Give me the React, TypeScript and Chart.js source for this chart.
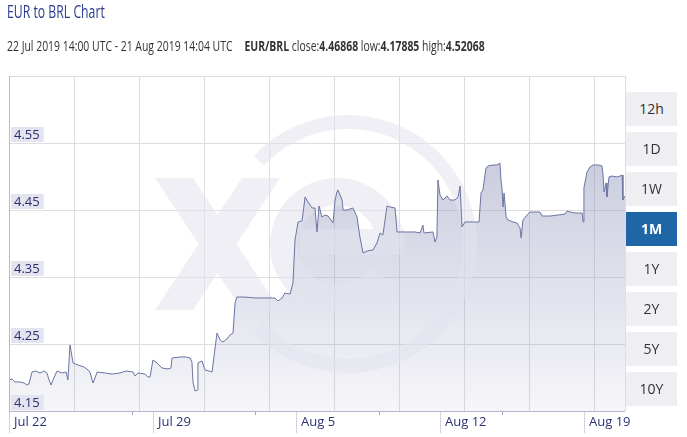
import React, { useEffect, useRef } from "react";
import { Chart, registerables } from "chart.js";

Chart.register(...registerables);

// ---- data (days since Jul 22 00:00, EUR/BRL rate) ----
const sampleDays = [
  0, 0.15, 0.29, 0.54, 0.73, 0.88, 0.97, 1.12, 1.31, 1.51,
  1.7, 1.85, 1.95, 2.05, 2.14, 2.34, 2.58, 2.78, 2.87, 2.97,
  3.12, 3.36, 3.65, 3.85, 3.94, 4.09, 4.19, 4.29, 4.68, 5.02,
  5.41, 5.7, 6.04, 6.14, 6.28, 6.62, 6.77, 6.87, 7.01, 7.21,
  7.45, 7.74, 7.89, 7.94, 8.33, 8.62, 8.82, 8.91, 8.96, 9.06,
  9.16, 9.2, 9.4, 9.55, 9.74, 9.89, 9.98, 10.13, 10.28, 10.42,
  10.62, 10.76, 10.91, 11.01, 11.1, 11.49, 11.98, 12.47, 12.95, 13.1,
  13.3, 13.44, 13.69, 13.83, 13.93, 14.08, 14.27, 14.42, 14.56, 14.76,
  14.9, 15.0, 15.1, 15.24, 15.39, 15.54, 15.78, 15.88, 15.97, 16.02,
  16.22, 16.27, 16.46, 16.75, 16.95, 17.09, 17.24, 17.44, 17.73, 17.92,
  18.07, 18.21, 18.41, 18.56, 18.8, 18.9, 19.29, 19.77, 20.02, 20.16,
  20.21, 20.65, 20.75, 20.84, 20.89, 20.99, 21.14, 21.33, 21.48, 21.72,
  21.87, 21.97, 22.06, 22.21, 22.55, 22.89, 22.99, 23.08, 23.23, 23.33,
  23.57, 23.77, 23.91, 23.96, 24.01, 24.06, 24.11, 24.21, 24.3, 24.55,
  24.74, 24.89, 24.94, 25.03, 25.23, 25.37, 25.86, 25.96, 26.35, 26.74,
  27.08, 27.18, 27.32, 27.61, 27.91, 27.96, 28.0, 28.15, 28.3, 28.44,
  28.69, 28.88, 28.93, 28.98, 29.08, 29.12, 29.22, 29.37, 29.61, 29.76,
  29.86, 29.9, 30.0,
];

const eurBrl = [
  4.1963, 4.1978, 4.1933, 4.1933, 4.1918, 4.1888, 4.1903, 4.2082, 4.2097, 4.2067,
  4.2097, 4.2067, 4.1963, 4.1888, 4.1963, 4.2097, 4.2067, 4.2082, 4.1963, 4.2485,
  4.2216, 4.2187, 4.2157, 4.2112, 4.2082, 4.1918, 4.1993, 4.2082, 4.2067, 4.2052,
  4.2067, 4.2097, 4.2082, 4.2022, 4.2067, 4.2052, 4.2007, 4.2007, 4.2261, 4.2216,
  4.2142, 4.2127, 4.2142, 4.2291, 4.2306, 4.2306, 4.2291, 4.2231, 4.1933, 4.1799,
  4.1813, 4.2216, 4.2246, 4.2112, 4.2097, 4.2082, 4.2306, 4.2664, 4.256, 4.253,
  4.2575, 4.2634, 4.2664, 4.3112, 4.3201, 4.3201, 4.3187, 4.3187, 4.3187, 4.3142,
  4.3187, 4.3261, 4.3246, 4.341, 4.4052, 4.4321, 4.4336, 4.4694, 4.4619, 4.453,
  4.453, 4.4172, 4.456, 4.4396, 4.4425, 4.441, 4.4306, 4.4649, 4.4769, 4.4799,
  4.4649, 4.45, 4.45, 4.453, 4.4396, 4.4097, 4.3858, 4.3888, 4.3903, 4.4007,
  4.4157, 4.4127, 4.456, 4.4545, 4.453, 4.4172, 4.4172, 4.4172, 4.4157, 4.4276,
  4.4157, 4.4172, 4.4022, 4.4097, 4.4948, 4.4724, 4.4649, 4.4709, 4.4649, 4.4649,
  4.4694, 4.4858, 4.4246, 4.4321, 4.4321, 4.4321, 4.4754, 4.4799, 4.5127, 4.5157,
  4.5172, 4.5172, 4.5201, 4.4948, 4.4828, 4.4545, 4.4754, 4.4396, 4.4351, 4.4321,
  4.4306, 4.4231, 4.4082, 4.4351, 4.4425, 4.447, 4.447, 4.441, 4.441, 4.4425,
  4.444, 4.4485, 4.447, 4.4455, 4.4455, 4.4321, 4.4828, 4.5067, 4.5142, 4.5172,
  4.5172, 4.5157, 4.5022, 4.4769, 4.4903, 4.4694, 4.4993, 4.5007, 4.4993, 4.5007,
  4.5022, 4.4649, 4.4709,
];

const xMajorDays = [0, 7, 14, 21, 28];
const xMajorLabels = ["Jul 22", "Jul 29", "Aug 5", "Aug 12", "Aug 19"];
const xMinorDays = [6, 12, 18, 24];
const yLabelValues = [4.15, 4.25, 4.35, 4.45, 4.55];
const yGridValues = [4.15, 4.25, 4.35, 4.45, 4.55, 4.65];
const rangeButtons = ["12h", "1D", "1W", "1M", "1Y", "2Y", "5Y", "10Y"];
const activeButton = "1M";

const X_MIN = 0;
const X_MAX = 30;
const Y_MIN = 4.15;
const Y_MAX = 4.65;
const V_GRID_STEP = 3.1656; // vertical grid spacing in days

const FONT = '"Open Sans", "DejaVu Sans", sans-serif';

function drawWatermark(ctx: CanvasRenderingContext2D, w: number, h: number) {
  const off = document.createElement("canvas");
  off.width = w;
  off.height = h;
  const o = off.getContext("2d")!;
  o.fillStyle = "#e3e4ee";
  // X
  o.beginPath();
  o.moveTo(155, 178); o.lineTo(193, 178); o.lineTo(280, 310); o.lineTo(242, 310); o.closePath();
  o.moveTo(242, 178); o.lineTo(280, 178); o.lineTo(193, 310); o.lineTo(155, 310); o.closePath();
  o.fill();
  // big ring
  const d = Math.PI / 180;
  o.beginPath();
  o.arc(348, 244, 129, -137 * d, 137 * d, false);
  o.arc(348, 244, 115, 137 * d, -137 * d, true);
  o.closePath();
  o.fill();
  // inner e
  o.beginPath();
  o.arc(337, 245, 67, 35 * d, 360 * d, false);
  o.arc(337, 245, 40, 360 * d, 35 * d, true);
  o.closePath();
  o.fill();
  o.fillRect(300, 229, 104, 26);
  ctx.save();
  ctx.globalAlpha = 0.56;
  ctx.drawImage(off, 0, 0);
  ctx.restore();
}

const decorPlugin = {
  id: "decor",
  beforeDraw(chart: any) {
    const ctx = chart.ctx;
    ctx.save();
    ctx.fillStyle = "#ffffff";
    ctx.fillRect(0, 0, chart.width, chart.height);
    ctx.restore();
  },
  afterDatasetDraw(chart: any, args: any) {
    if (args.index !== 0) return;
    drawWatermark(chart.ctx, chart.width, chart.height);
  },
  afterDraw(chart: any) {
    const ctx: CanvasRenderingContext2D = chart.ctx;
    const area = chart.chartArea;
    const xs = chart.scales.x;
    const ys = chart.scales.y;
    ctx.save();
    // axis lines
    ctx.lineWidth = 1;
    ctx.strokeStyle = "#b4b7d1";
    ctx.beginPath();
    ctx.moveTo(area.left, Math.round(area.bottom) + 0.5);
    ctx.lineTo(area.right, Math.round(area.bottom) + 0.5);
    ctx.moveTo(Math.round(area.left) + 0.5, area.top);
    ctx.lineTo(Math.round(area.left) + 0.5, area.bottom);
    ctx.stroke();
    // major ticks + labels
    ctx.font = `13px ${FONT}`;
    ctx.textBaseline = "middle";
    ctx.textAlign = "left";
    xMajorDays.forEach((dv, i) => {
      const px = Math.round(xs.getPixelForValue(dv)) + 0.5;
      ctx.strokeStyle = "#d3d3dc";
      ctx.beginPath();
      ctx.moveTo(px, area.bottom + 1);
      ctx.lineTo(px, area.bottom + 22);
      ctx.stroke();
      ctx.fillStyle = "#2b3274";
      ctx.fillText(xMajorLabels[i], px + 4.5, area.bottom + 11);
    });
    ctx.strokeStyle = "#a3a6c0";
    xMinorDays.forEach((dv) => {
      const px = Math.round(xs.getPixelForValue(dv)) + 0.5;
      ctx.beginPath();
      ctx.moveTo(px, area.bottom + 1);
      ctx.lineTo(px, area.bottom + 4);
      ctx.stroke();
    });
    // y labels
    yLabelValues.forEach((v) => {
      const py = Math.round(ys.getPixelForValue(v));
      const txt = v.toFixed(2);
      const tw = ctx.measureText(txt).width;
      ctx.fillStyle = "#e4e4f0";
      ctx.fillRect(area.left + 2, py - 16, tw + 7, 15);
      ctx.fillStyle = "#2b2f6e";
      ctx.fillText(txt, area.left + 5, py - 8);
    });
    ctx.restore();
  },
};

export default function App() {
  const ref = useRef<HTMLCanvasElement>(null);

  useEffect(() => {
    const points = sampleDays.map((d, i) => ({ x: d, y: eurBrl[i] }));
    const fillGradient = (c: any) => {
      const chart = c.chart;
      const area = chart.chartArea;
      if (!area) return "rgba(150,155,190,0.35)";
      const g = chart.ctx.createLinearGradient(0, area.top, 0, area.bottom);
      g.addColorStop(0, "rgba(150,155,190,0.64)");
      g.addColorStop(1, "rgba(150,155,190,0.09)");
      return g;
    };
    const chart = new Chart(ref.current!, {
      type: "line",
      data: {
        datasets: [
          {
            label: "fill",
            data: points,
            order: 2,
            fill: "start",
            backgroundColor: fillGradient,
            borderWidth: 0,
            pointRadius: 0,
            tension: 0,
          },
          {
            label: "EUR/BRL",
            data: points,
            order: 1,
            fill: false,
            borderColor: "#6c74a3",
            borderWidth: 1,
            pointRadius: 0,
            tension: 0,
          },
        ],
      },
      options: {
        responsive: false,
        animation: false,
        devicePixelRatio: 1,
        parsing: false,
        layout: { padding: { left: 9, top: 76, right: 62, bottom: 26 } },
        plugins: { legend: { display: false }, tooltip: { enabled: false } },
        events: [],
        scales: {
          x: {
            type: "linear",
            min: X_MIN,
            max: X_MAX,
            display: true,
            border: { display: false },
            grid: { color: "#dedede", lineWidth: 1, drawTicks: false },
            ticks: { display: false },
            afterBuildTicks: (axis: any) => {
              const t: any[] = [];
              for (let v = X_MIN; v < X_MAX - 0.5; v += V_GRID_STEP) t.push({ value: v });
              t.push({ value: X_MAX });
              axis.ticks = t;
            },
          },
          y: {
            type: "linear",
            min: Y_MIN,
            max: Y_MAX,
            display: true,
            border: { display: false },
            grid: { color: "#dedede", lineWidth: 1, drawTicks: false },
            ticks: { display: false },
            afterBuildTicks: (axis: any) => {
              axis.ticks = yGridValues.map((v) => ({ value: v }));
            },
          },
        },
      } as any,
      plugins: [decorPlugin],
    });
    return () => chart.destroy();
  }, []);

  return (
    <div
      style={{
        position: "absolute",
        left: 0,
        top: 0,
        width: 687,
        height: 437,
        background: "#fff",
        overflow: "hidden",
        fontFamily: FONT,
      }}
    >
      <canvas
        ref={ref}
        width={687}
        height={437}
        style={{ position: "absolute", left: 0, top: 0, width: 687, height: 437 }}
      />
      <div
        style={{
          position: "absolute",
          left: 7,
          top: 2,
          fontSize: 18,
          lineHeight: "18px",
          color: "#2a3a8c",
          whiteSpace: "nowrap",
          transform: "scaleX(0.68)",
          transformOrigin: "0 0",
        }}
      >
        EUR to BRL Chart
      </div>
      <div
        style={{
          position: "absolute",
          left: 7,
          top: 39,
          fontSize: 14,
          lineHeight: "14px",
          color: "#333",
          whiteSpace: "nowrap",
          transform: "scaleX(0.745)",
          transformOrigin: "0 0",
        }}
      >
        22 Jul 2019 14:00 UTC - 21 Aug 2019 14:04 UTC
        <span style={{ marginLeft: 16 }}>
          <b>EUR/BRL</b> close:<b>4.46868</b> low:<b>4.17885</b> high:<b>4.52068</b>
        </span>
      </div>
      {rangeButtons.map((b, i) => {
        const active = b === activeButton;
        return (
          <div
            key={b}
            style={{
              position: "absolute",
              left: 626,
              top: 92 + i * 40,
              width: 51,
              height: 34,
              lineHeight: "34px",
              textAlign: "center",
              fontSize: 14,
              background: active ? "#1f66a7" : "#efeff3",
              color: active ? "#fff" : "#333",
              fontWeight: active ? 700 : 400,
            }}
          >
            {b}
          </div>
        );
      })}
    </div>
  );
}
